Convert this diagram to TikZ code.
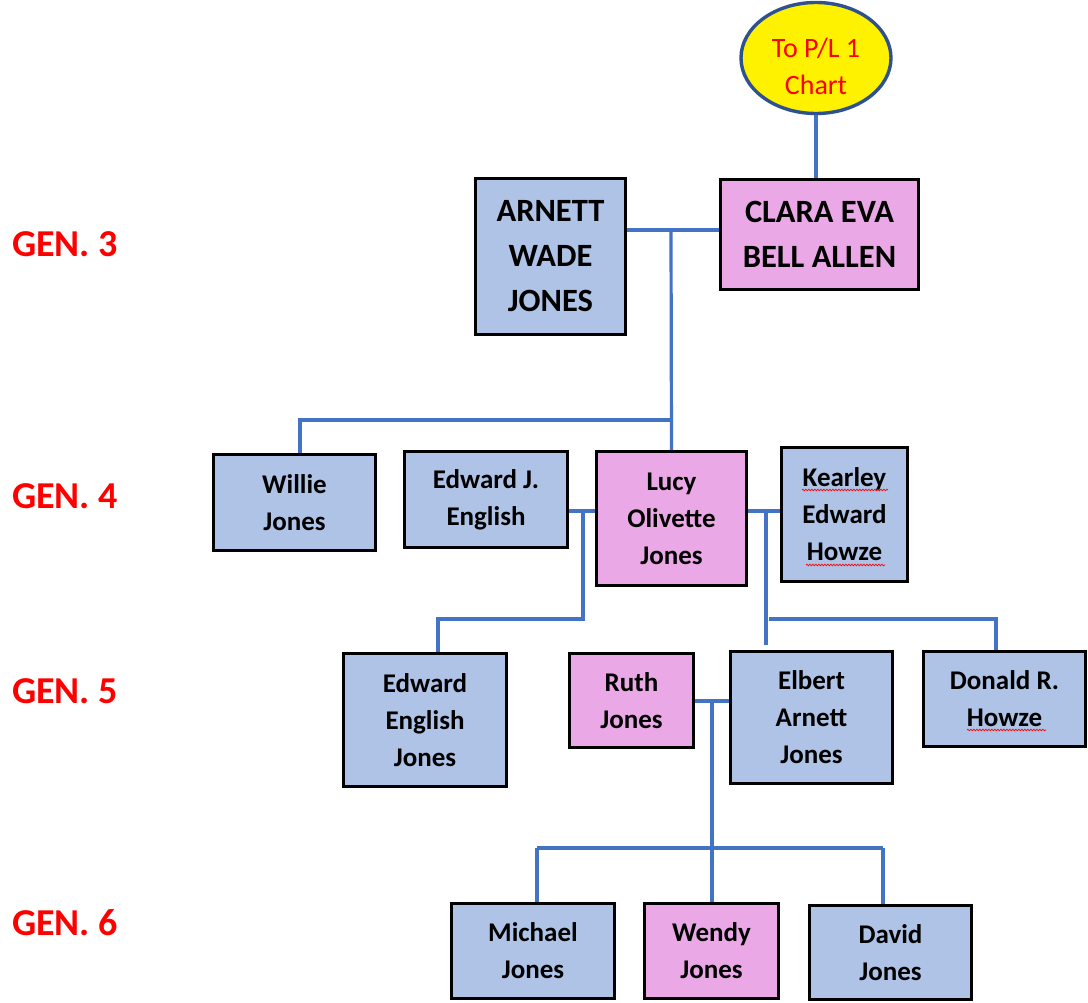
\documentclass[tikz,border=0pt]{standalone}
\usepackage{fontspec}
\setmainfont{Carlito}
\usetikzlibrary{shapes.geometric,decorations.pathmorphing}
\definecolor{bfill}{HTML}{AEC3E6}
\definecolor{pfill}{HTML}{EBA8E6}
\definecolor{lnk}{HTML}{4472C4}
\definecolor{ered}{HTML}{FF0000}
\definecolor{eborder}{HTML}{2F528F}
\begin{document}
\begin{tikzpicture}[x=1pt,y=-1pt,
  person/.style={draw=black, line width=2.8pt, inner sep=0pt, align=center,
    font=\bfseries\fontsize{27}{37}\selectfont},
  bluebox/.style={person, fill=bfill},
  pinkbox/.style={person, fill=pfill},
  bigname/.style={font=\bfseries\fontsize{32.5}{45}\selectfont},
  link/.style={draw=lnk, line width=3.2pt},
  genlabel/.style={text=ered, font=\bfseries\fontsize{38}{44}\selectfont, anchor=base west, inner sep=0pt},
  squig/.style={draw=red, line width=0.7pt, decorate, decoration={snake, amplitude=0.8pt, segment length=3pt}}
]
\useasboundingbox (0,0) rectangle (1088,1003);
\fill[white] (0,0) rectangle (1088,1003);

% generation labels
\node[genlabel] (g3) at (12,257) {GEN. 3};
\node[genlabel] (g4) at (12,508) {GEN. 4};
\node[genlabel] (g5) at (12,703) {GEN. 5};
\node[genlabel] (g6) at (12,935) {GEN. 6};

% ellipse
\node[ellipse, draw=eborder, line width=3.4pt, fill=yellow, minimum width=150, minimum height=111,
  inner sep=0pt] (ell) at (816,58) {};
\node[align=center, text=ered, inner sep=0pt, font=\fontsize{28}{37}\selectfont] (elltext) at (816,66) {To P/L 1\\Chart};

% generation 3
\node[bluebox, bigname, minimum width=150, minimum height=156] (arnett) at (550.5,256.5) {ARNETT\\WADE\\JONES};
\node[pinkbox, bigname, minimum width=198, minimum height=110] (clara) at (819.5,234.5) {CLARA EVA\\BELL ALLEN};

% generation 4
\node[bluebox, minimum width=162, minimum height=96] (willie) at (294.5,502.5) {Willie\\Jones};
\node[bluebox, minimum width=163, minimum height=96] (edwardj) at (486,499.5) {Edward J.\\English};
\node[pinkbox, minimum width=150, minimum height=134] (lucy) at (671.5,518.5) {Lucy\\Olivette\\Jones};
\node[bluebox, minimum width=126, minimum height=134] (kearley) at (844.5,514.5) {Kearley\\Edward\\Howze};

% generation 5
\node[bluebox, minimum width=163, minimum height=133] (ejones) at (425,720) {Edward\\English\\Jones};
\node[pinkbox, minimum width=124, minimum height=94] (ruth) at (631.5,700.5) {Ruth\\Jones};
\node[bluebox, minimum width=162, minimum height=132] (elbert) at (811.5,717.5) {Elbert\\Arnett\\Jones};
\node[bluebox, minimum width=162, minimum height=95] (donald) at (1004.5,699) {Donald R.\\Howze};

% generation 6
\node[bluebox, minimum width=163, minimum height=95] (michael) at (533,951) {Michael\\Jones};
\node[pinkbox, minimum width=134, minimum height=95] (wendy) at (711.5,951) {Wendy\\Jones};
\node[bluebox, minimum width=162, minimum height=94] (david) at (890.5,952.5) {David\\Jones};

% spell-check squiggles
\draw[squig] (802,490) -- (888,490);
\draw[squig] (806,565) -- (885,565);
\draw[squig] (967,730) -- (1046,730);

% connectors
\coordinate (m3) at (671,230);
\coordinate (j4) at (671,420);
\coordinate (w4) at (300,420);
\draw[link] (ell.south) -- (ell.south |- clara.north);
\draw[link] (arnett.east |- m3) -- (clara.west |- m3);
\draw[link] (m3) -- (lucy.north);
\draw[link] (j4) -- (w4) -- (w4 |- willie.north);

\coordinate (m4a) at (583,511);
\coordinate (j5a) at (583,619);
\coordinate (k5a) at (438,619);
\draw[link] (edwardj.east |- m4a) -- (lucy.west |- m4a);
\draw[link] (m4a) -- (j5a) -- (k5a) -- (k5a |- ejones.north);

\coordinate (m4b) at (766,511);
\coordinate (e5) at (766,645);
\coordinate (h5a) at (769,619);
\coordinate (h5b) at (996,619);
\draw[link] (lucy.east |- m4b) -- (kearley.west |- m4b);
\draw[link] (m4b) -- (e5);
\draw[link] (h5a) -- (h5b) -- (h5b |- donald.north);

\coordinate (m5) at (712,701);
\coordinate (j6a) at (537,848);
\coordinate (j6b) at (883,848);
\draw[link] (ruth.east |- m5) -- (elbert.west |- m5);
\draw[link] (m5) -- (m5 |- wendy.north);
\draw[link] (j6a) -- (j6b);
\draw[link] (j6a) -- (j6a |- michael.north);
\draw[link] (j6b) -- (j6b |- david.north);
\end{tikzpicture}
\end{document}
